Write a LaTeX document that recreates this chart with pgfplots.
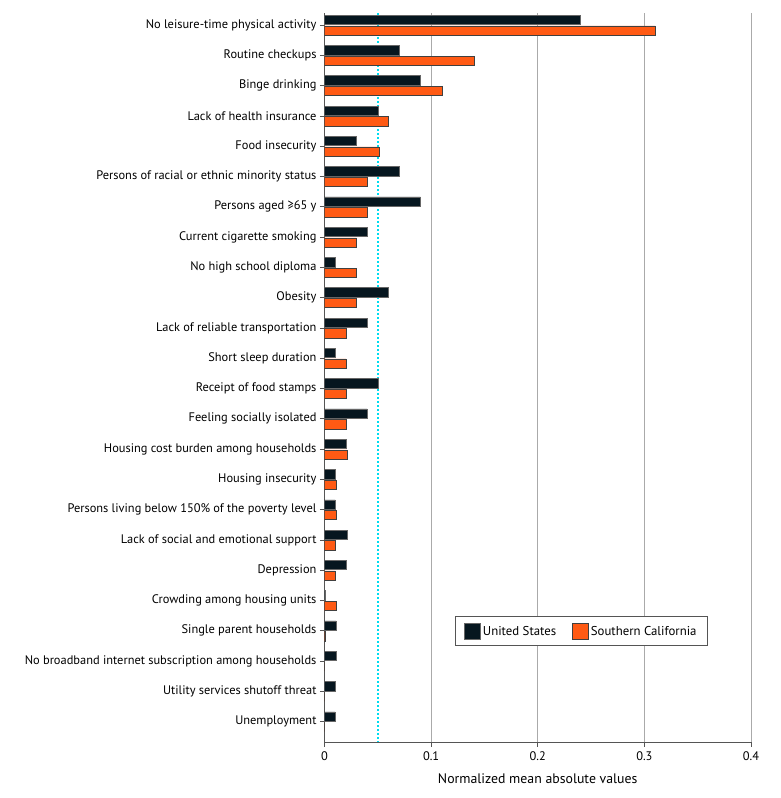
\documentclass[border=0pt]{standalone}
\usepackage{pgfplots}
\pgfplotsset{compat=1.18}
\usepackage{pgfplotstable}
\usepackage{fontspec}
\setmainfont{PT Sans}

\definecolor{usnavy}{HTML}{06161F}
\definecolor{socal}{HTML}{FF5A14}
\definecolor{gridgray}{HTML}{AAAAAA}
\definecolor{axisgray}{HTML}{555555}
\definecolor{refcyan}{RGB}{0,220,240}

% Normalized mean absolute values per determinant (row 0 = top of chart)
\pgfplotstableread{
idx us    socal
0   0.24  0.31
1   0.07  0.14
2   0.09  0.11
3   0.05  0.06
4   0.03  0.051
5   0.07  0.04
6   0.09  0.04
7   0.04  0.03
8   0.01  0.03
9   0.06  0.03
10  0.04  0.02
11  0.01  0.02
12  0.05  0.02
13  0.04  0.02
14  0.02  0.021
15  0.01  0.011
16  0.01  0.011
17  0.021 0.01
18  0.02  0.01
19  0.001 0.011
20  0.011 0.001
21  0.011 0.0
22  0.01  0.0
23  0.01  0.0
}\data

\begin{document}
\begin{tikzpicture}
\begin{axis}[
  scale only axis,
  width=426.5pt, height=729pt,
  xmin=0, xmax=0.4,
  ymin=-0.4, ymax=23.67,
  y dir=reverse,
  axis x line*=bottom, axis y line*=left,
  axis line style={axisgray, line width=0.8pt},
  tick style={axisgray, line width=0.8pt},
  tick align=outside,
  major tick length=4.5pt,
  xtick={0,0.1,0.2,0.3,0.4},
  xticklabels={0,0.1,0.2,0.3,0.4},
  xmajorgrids,
  grid style={gridgray, line width=0.8pt},
  ytick={0,...,23},
  yticklabels={
    No leisure-time physical activity,
    Routine checkups,
    Binge drinking,
    Lack of health insurance,
    Food insecurity,
    Persons of racial or ethnic minority status,
    Persons aged ≥65 y,
    Current cigarette smoking,
    No high school diploma,
    Obesity,
    Lack of reliable transportation,
    Short sleep duration,
    Receipt of food stamps,
    Feeling socially isolated,
    Housing cost burden among households,
    Housing insecurity,
    Persons living below 150\% of the poverty level,
    Lack of social and emotional support,
    Depression,
    Crowding among housing units,
    Single parent households,
    No broadband internet subscription among households,
    Utility services shutoff threat,
    Unemployment},
  ticklabel style={font=\fontsize{12.4}{14}\selectfont, text=black},
  xticklabel style={yshift=-2pt},
  xlabel={Normalized mean absolute values},
  xlabel style={font=\fontsize{13.8}{16}\selectfont, yshift=-6pt},
  legend style={at={(axis cs:0.241,20)}, anchor=center, legend columns=2,
    draw=axisgray, line width=0.8pt, font=\fontsize{12.8}{15}\selectfont,
    inner xsep=9pt, inner ysep=6pt,
    /tikz/every even column/.append style={column sep=14pt}},
  legend image code/.code={\draw[#1, line width=0.6pt] (0pt,-7pt) rectangle (16pt,9pt);},
]
% reference level at 0.05
\addplot[color=refcyan, line width=1.5pt, dash pattern=on 1.5pt off 2.5pt, forget plot]
  coordinates {(0.05,-0.4) (0.05,23.67)};
\addplot[xbar, bar width=9.3pt, fill=usnavy, draw=black!60, line width=0.5pt, bar shift=5.3pt]
  table[x=us, y=idx] {\data};
\addlegendentry{United States}
\addplot[xbar, bar width=9.3pt, fill=socal, draw=black!75, line width=0.5pt, bar shift=-5.3pt]
  table[x=socal, y=idx] {\data};
\addlegendentry{Southern California}
\end{axis}
\path (current axis.south west) ++(-324.5pt,-56pt) rectangle ++(780pt,798pt);
\end{tikzpicture}
\end{document}
